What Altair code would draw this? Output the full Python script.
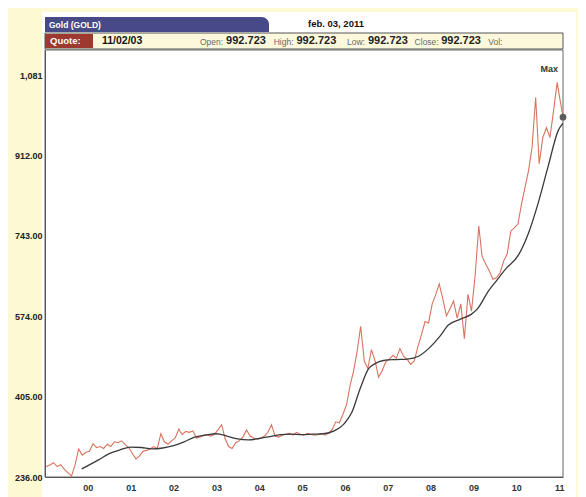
import altair as alt
import pandas as pd

# ---------------- data ----------------
price_months = [f"{y}-{m:02d}-15" for y in range(1999, 2011) for m in range(1, 13)] + ["2011-01-15", "2011-02-03"]
price_months[0] = "1999-01-02"
price_values = [
    # 1999
    257, 262, 266, 258, 262, 252, 245, 238, 262, 295, 282, 288,
    # 2000
    290, 306, 298, 300, 296, 305, 300, 310, 308, 312, 304, 298,
    # 2001
    285, 274, 280, 290, 292, 295, 300, 296, 327, 310, 305, 312,
    # 2002
    318, 337, 325, 332, 330, 333, 318, 320, 324, 325, 322, 326,
    # 2003
    335, 346, 318, 300, 296, 308, 312, 320, 335, 322, 318, 316,
    # 2004
    318, 322, 330, 346, 322, 320, 324, 326, 328, 324, 330, 326,
    # 2005
    324, 328, 326, 324, 325, 328, 324, 328, 336, 352, 350, 368,
    # 2006
    388, 430, 458, 500, 553, 480, 464, 504, 480, 446, 460, 478,
    # 2007
    484, 492, 486, 506, 490, 484, 473, 480, 510, 535, 563, 560,
    # 2008
    600, 620, 642, 610, 575, 590, 606, 570, 600, 527, 620, 585,
    # 2009
    660, 764, 700, 684, 670, 652, 655, 665, 690, 705, 753, 760,
    # 2010
    768, 811, 844, 880, 929, 1034, 895, 950, 971, 950, 1007, 1066,
    # 2011
    1020, 992.723,
]

ma_dates = [
    "1999-11-10", "2000-04-01", "2000-07-01", "2000-10-01", "2001-01-01", "2001-04-01",
    "2001-07-01", "2001-10-01", "2002-01-01", "2002-04-01", "2002-07-01", "2002-10-01",
    "2003-01-01", "2003-04-01", "2003-07-01", "2003-10-01", "2004-01-01", "2004-04-01",
    "2004-07-01", "2004-10-01", "2005-01-01", "2005-04-01", "2005-07-01", "2005-10-01",
    "2006-01-01", "2006-03-01", "2006-05-08", "2006-07-22", "2006-09-12", "2006-11-25",
    "2007-03-15", "2007-06-15", "2007-09-20", "2007-12-15", "2008-03-15", "2008-06-03",
    "2008-09-12", "2008-12-12", "2009-02-05", "2009-05-08", "2009-07-20", "2009-10-01",
    "2010-01-20", "2010-04-12", "2010-07-05", "2010-09-27", "2010-12-25", "2011-02-03",
]
ma_values = [
    253, 272, 285, 293, 299, 298,
    295, 297, 302, 310, 320, 324,
    327, 322, 316, 314, 317, 321,
    325, 326, 325, 326, 327, 333,
    350, 372, 420, 464, 474, 481,
    483, 484, 490, 506, 530, 556,
    568, 578, 590, 627, 650, 673,
    703, 747, 811, 887, 965, 980,
]

y_ticks = [236, 405, 574, 743, 912, 1081]
x_years = list(range(2000, 2012))

title_tab = "Gold (GOLD)"
date_text = "feb. 03, 2011"
quote_label = "Quote:"
quote_date = "11/02/03"
quote_fields = ["Open:", "High:", "Low:", "Close:", "Vol:"]
quote_value = "992.723"

# ---------------- chart ----------------
FONT = "Liberation Sans"
W, H = 518, 427

price_df = pd.DataFrame({"date": price_months, "price": price_values})
ma_df = pd.DataFrame({"date": ma_dates, "price": ma_values})
last_df = price_df.tail(1)
one = pd.DataFrame({"a": [0]})

x_enc = alt.X(
    "date:T",
    scale=alt.Scale(domain=["1999-01-01", "2011-02-03"]),
    axis=alt.Axis(
        values=[alt.DateTime(year=y, month=1, date=1) for y in x_years],
        format="%y",
        title=None,
        grid=False,
        ticks=False,
        labelPadding=6,
        labelFont=FONT,
        labelFontSize=9,
        labelFontWeight="bold",
        labelColor="#333",
        domainColor="#555",
        zindex=2,
    ),
)
y_enc = alt.Y(
    "price:Q",
    scale=alt.Scale(domain=[236, 1134], nice=False, zero=False),
    axis=alt.Axis(
        values=y_ticks,
        labelExpr="datum.value >= 1000 ? format(datum.value, ',') : format(datum.value, '.2f')",
        title=None,
        grid=False,
        ticks=False,
        labelPadding=3,
        labelFont=FONT,
        labelFontSize=9,
        labelFontWeight="bold",
        labelColor="#222",
        domainColor="#555",
        zindex=2,
    ),
)


def rect(x1, x2, y1, y2, fill, stroke=None, radius=None, fill_opacity=1):
    kw = {"fill": fill, "fillOpacity": fill_opacity}
    if stroke:
        kw["stroke"] = stroke
        kw["strokeWidth"] = 1
    if radius:
        kw["cornerRadiusTopRight"] = radius
    return alt.Chart(one).mark_rect(**kw).encode(
        x=alt.value(x1), x2=alt.value(x2), y=alt.value(y1), y2=alt.value(y2)
    )


def txt(s, x, y, size=9, weight="bold", color="#222", align="left"):
    return alt.Chart(one).mark_text(
        text=s, font=FONT, fontSize=size, fontWeight=weight, color=color,
        align=align, baseline="middle",
    ).encode(x=alt.value(x), y=alt.value(y))


panel = rect(-3, 531, -38, 460, "white")
border = rect(0, W, 0, H, "white", stroke="#666", fill_opacity=0)
tab = rect(0, 224, -33, -18, "#474a86", radius=9)
tab_text = txt(title_tab, 4, -25.5, size=8.5, color="white")
date_t = txt(date_text, 263, -26, size=9.5, color="#111")
bar = rect(0, W, -17, -1, "#fcf8dc", stroke="#555")
qbox = rect(0, 48, -16, -2, "#9c3a2f")
qtext = txt(quote_label, 5, -9, size=9.5, color="white")
qdate = txt(quote_date, 57, -9, size=10.5, color="#111")

label_x = [155, 228.7, 302, 369.6, 443.3]
value_x = [181.1, 251.5, 323, 396.2]
quote_layers = []
for lbl, lx in zip(quote_fields, label_x):
    quote_layers.append(txt(lbl, lx, -8.5, size=8.5, weight="normal", color="#6a6a6a"))
for vx in value_x:
    quote_layers.append(txt(quote_value, vx, -9, size=11, color="#222"))

price_line = alt.Chart(price_df).mark_line(
    color="#d9735f", strokeWidth=1.1, clip=True
).encode(x=x_enc, y=y_enc)
ma_line = alt.Chart(ma_df).mark_line(
    color="#3a3a3a", strokeWidth=1.3, interpolate="monotone", clip=True
).encode(x=x_enc, y=y_enc)
dot = alt.Chart(last_df).mark_point(
    filled=True, size=45, color="#5a5a5a", opacity=1
).encode(x=x_enc, y=y_enc)
max_t = txt("Max", 513, 19, size=9, color="#333", align="right")

chart = alt.layer(
    panel, border, tab, tab_text, date_t, bar, qbox, qtext, qdate, *quote_layers,
    price_line, ma_line, dot, max_t,
).properties(
    width=W,
    height=H,
    background="#fdf9d2",
    autosize=alt.AutoSizeParams(type="none"),
    padding={"left": 37, "top": 42, "right": 15, "bottom": 20},
).configure_view(
    fill="white", stroke="#666", strokeWidth=1
)

chart.save("out.html", embed_options={"renderer": "svg", "actions": False})
